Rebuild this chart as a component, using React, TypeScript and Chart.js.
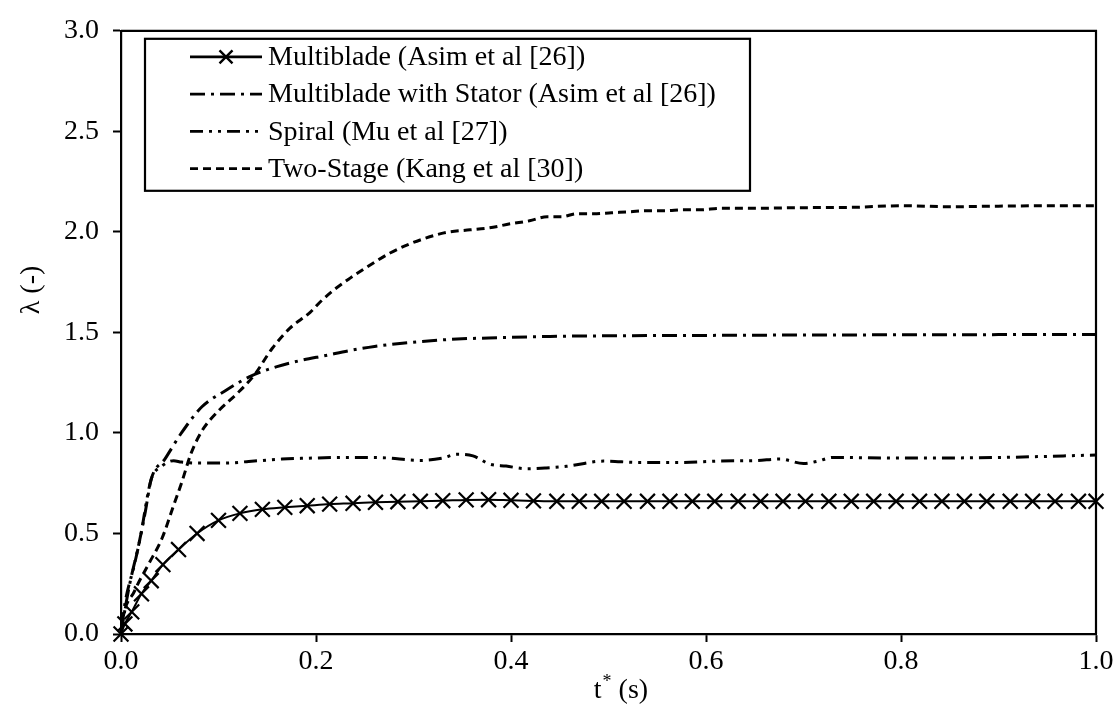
import React, { useEffect, useRef } from "react";
import { Chart, registerables } from "chart.js";

Chart.register(...registerables);

const FONT = "'Liberation Serif', 'Times New Roman', serif";

// Multiblade (Asim et al [26])
const mbX = [0, 0.004, 0.011, 0.021, 0.031, 0.043, 0.059, 0.078, 0.1, 0.122, 0.145, 0.168, 0.191, 0.214, 0.238, 0.261, 0.284, 0.307, 0.33, 0.354, 0.377, 0.4, 0.423, 0.447, 0.47, 0.493, 0.516, 0.54, 0.563, 0.586, 0.609, 0.633, 0.656, 0.679, 0.702, 0.726, 0.749, 0.772, 0.795, 0.819, 0.842, 0.865, 0.888, 0.912, 0.935, 0.958, 0.982, 1.0];
const mbY = [0, 0.05, 0.11, 0.2, 0.265, 0.345, 0.42, 0.5, 0.565, 0.6, 0.62, 0.63, 0.638, 0.646, 0.65, 0.655, 0.658, 0.66, 0.663, 0.667, 0.668, 0.665, 0.662, 0.66, 0.66, 0.66, 0.66, 0.66, 0.66, 0.66, 0.66, 0.66, 0.66, 0.66, 0.66, 0.66, 0.66, 0.66, 0.66, 0.66, 0.66, 0.66, 0.66, 0.66, 0.66, 0.66, 0.66, 0.66];

// Multiblade with Stator (Asim et al [26])
const stX = [0, 0.004, 0.009, 0.018, 0.025, 0.031, 0.045, 0.062, 0.083, 0.107, 0.132, 0.16, 0.184, 0.21, 0.235, 0.26, 0.286, 0.337, 0.389, 0.44, 0.5, 0.6, 0.7, 0.8, 0.9, 1.0];
const stY = [0, 0.12, 0.25, 0.44, 0.61, 0.77, 0.87, 1.0, 1.13, 1.21, 1.28, 1.33, 1.36, 1.385, 1.41, 1.43, 1.445, 1.465, 1.474, 1.48, 1.483, 1.485, 1.487, 1.488, 1.489, 1.49];

// Spiral (Mu et al [27])
const spX = [0, 0.004, 0.014, 0.021, 0.026, 0.031, 0.042, 0.054, 0.062, 0.08, 0.096, 0.108, 0.131, 0.165, 0.196, 0.225, 0.266, 0.307, 0.33, 0.344, 0.361, 0.378, 0.395, 0.416, 0.436, 0.457, 0.495, 0.532, 0.573, 0.614, 0.652, 0.676, 0.7, 0.715, 0.73, 0.8, 0.9, 1.0];
const spY = [0, 0.15, 0.35, 0.51, 0.655, 0.77, 0.835, 0.862, 0.855, 0.85, 0.85, 0.85, 0.858, 0.87, 0.875, 0.878, 0.877, 0.863, 0.875, 0.894, 0.886, 0.845, 0.835, 0.822, 0.826, 0.834, 0.86, 0.853, 0.853, 0.86, 0.863, 0.87, 0.848, 0.86, 0.878, 0.875, 0.878, 0.89];

// Two-Stage (Kang et al [30])
const tsX = [0, 0.001, 0.014, 0.028, 0.042, 0.054, 0.062, 0.072, 0.083, 0.1, 0.12, 0.137, 0.155, 0.173, 0.194, 0.204, 0.218, 0.235, 0.249, 0.262, 0.276, 0.296, 0.31, 0.327, 0.337, 0.358, 0.378, 0.399, 0.419, 0.437, 0.452, 0.467, 0.485, 0.503, 0.522, 0.54, 0.558, 0.577, 0.595, 0.614, 0.65, 0.687, 0.75, 0.8, 0.85, 0.9, 0.95, 1.0];
const tsY = [0, 0.05, 0.215, 0.345, 0.475, 0.64, 0.75, 0.9, 1.01, 1.11, 1.2, 1.29, 1.42, 1.52, 1.6, 1.65, 1.71, 1.77, 1.815, 1.855, 1.895, 1.94, 1.965, 1.99, 2.0, 2.01, 2.02, 2.04, 2.055, 2.075, 2.075, 2.09, 2.09, 2.095, 2.1, 2.105, 2.105, 2.11, 2.11, 2.117, 2.117, 2.12, 2.122, 2.13, 2.125, 2.128, 2.13, 2.13];

const seriesLabels = [
  "Multiblade (Asim et al [26])",
  "Multiblade with Stator (Asim et al [26])",
  "Spiral (Mu et al [27])",
  "Two-Stage (Kang et al [30])",
];

const xTitleMain = "t";
const xTitleSup = "*";
const xTitleRest = " (s)";
const yTitle = "λ (-)";

const DASH_STATOR = [15, 6, 3, 6];
const DASH_SPIRAL = [13, 6, 3, 6, 3, 6];
const DASH_TWO = [8, 5];

export default function App() {
  const ref = useRef<HTMLCanvasElement>(null);

  useEffect(() => {
    document.body.style.margin = "0";
    const canvas = ref.current!;
    const pts = (xs: number[], ys: number[]) => xs.map((x, i) => ({ x, y: ys[i] }));

    const drawX = (c: CanvasRenderingContext2D, x: number, y: number, r: number) => {
      c.beginPath();
      c.moveTo(x - r, y - r);
      c.lineTo(x + r, y + r);
      c.moveTo(x - r, y + r);
      c.lineTo(x + r, y - r);
      c.stroke();
    };

    const decorPlugin = {
      id: "decor",
      afterDraw(chart: any) {
        const c: CanvasRenderingContext2D = chart.ctx;
        const a = chart.chartArea;
        c.save();
        // top and right frame
        c.strokeStyle = "#000";
        c.lineWidth = 2.2;
        c.setLineDash([]);
        c.beginPath();
        c.moveTo(a.left, a.top);
        c.lineTo(a.right, a.top);
        c.lineTo(a.right, a.bottom);
        c.stroke();

        // legend box
        const bx = a.left + 24;
        const by = a.top + 8;
        const bw = 605;
        const bh = 152;
        c.lineWidth = 2.2;
        c.strokeRect(bx, by, bw, bh);
        const rowH = 37.3;
        const y0 = by + 18;
        const sx0 = bx + 45;
        const sx1 = bx + 117;
        const tx = bx + 123;
        const dashes = [[], DASH_STATOR, DASH_SPIRAL, DASH_TWO];
        c.font = `28px ${FONT}`;
        c.textBaseline = "middle";
        c.textAlign = "left";
        c.fillStyle = "#000";
        for (let i = 0; i < seriesLabels.length; i++) {
          const y = y0 + i * rowH;
          c.setLineDash(dashes[i]);
          c.lineWidth = 2.8;
          c.beginPath();
          c.moveTo(sx0, y);
          c.lineTo(sx1, y);
          c.stroke();
          c.setLineDash([]);
          if (i === 0) {
            c.lineWidth = 2.4;
            drawX(c, (sx0 + sx1) / 2, y, 6.5);
          }
          c.fillText(seriesLabels[i], tx, y + 1);
        }

        // y title
        c.save();
        c.translate(32, 290);
        c.rotate(-Math.PI / 2);
        c.textAlign = "center";
        c.textBaseline = "middle";
        c.font = `28px ${FONT}`;
        c.fillText(yTitle, 0, 0);
        c.restore();

        // x title with superscript
        c.textBaseline = "alphabetic";
        c.textAlign = "left";
        const mainFont = `28px ${FONT}`;
        const supFont = `18px ${FONT}`;
        c.font = mainFont;
        const w1 = c.measureText(xTitleMain).width;
        const w3 = c.measureText(xTitleRest).width;
        c.font = supFont;
        const w2 = c.measureText(xTitleSup).width;
        const total = w1 + w2 + w3;
        const cx = (a.left + a.right) / 2 + 12;
        let x = cx - total / 2;
        const base = 698;
        c.font = mainFont;
        c.fillText(xTitleMain, x, base);
        x += w1 + 1;
        c.font = supFont;
        c.fillText(xTitleSup, x, base - 11);
        x += w2;
        c.font = mainFont;
        c.fillText(xTitleRest, x, base);
        c.restore();
      },
    };

    const chart = new Chart(canvas, {
      type: "scatter",
      data: {
        datasets: [
          {
            label: seriesLabels[0],
            data: pts(mbX, mbY),
            showLine: true,
            borderColor: "#000",
            backgroundColor: "#000",
            borderWidth: 2,
            pointStyle: "crossRot",
            pointRadius: 10.5,
            pointBorderWidth: 2.2,
            pointBorderColor: "#000",
            cubicInterpolationMode: "monotone",
            clip: false,
          },
          {
            label: seriesLabels[1],
            data: pts(stX, stY),
            showLine: true,
            borderColor: "#000",
            borderWidth: 3,
            borderDash: DASH_STATOR,
            pointRadius: 0,
            cubicInterpolationMode: "monotone",
          },
          {
            label: seriesLabels[2],
            data: pts(spX, spY),
            showLine: true,
            borderColor: "#000",
            borderWidth: 3,
            borderDash: DASH_SPIRAL,
            pointRadius: 0,
            cubicInterpolationMode: "monotone",
          },
          {
            label: seriesLabels[3],
            data: pts(tsX, tsY),
            showLine: true,
            borderColor: "#000",
            borderWidth: 3,
            borderDash: DASH_TWO,
            pointRadius: 0,
            cubicInterpolationMode: "monotone",
          },
        ] as any,
      },
      options: {
        responsive: false,
        animation: false,
        layout: { padding: { left: 0, right: 22, top: 21, bottom: 0 } },
        plugins: {
          legend: { display: false },
          tooltip: { enabled: false },
        },
        scales: {
          x: {
            type: "linear",
            min: 0,
            max: 1,
            afterFit: (s: any) => {
              s.height = 72;
            },
            ticks: {
              stepSize: 0.2,
              callback: (v: any) => Number(v).toFixed(1),
              font: { family: FONT, size: 28 },
              color: "#000",
              padding: 3,
              maxRotation: 0,
            },
            grid: {
              drawOnChartArea: false,
              drawTicks: true,
              tickLength: 8,
              tickColor: "#000",
              tickWidth: 2,
            },
            border: { color: "#000", width: 2.2 },
          },
          y: {
            type: "linear",
            min: 0,
            max: 3,
            afterFit: (s: any) => {
              s.width = 121;
            },
            ticks: {
              stepSize: 0.5,
              callback: (v: any) => Number(v).toFixed(1),
              font: { family: FONT, size: 28 },
              color: "#000",
              padding: 14,
            },
            grid: {
              drawOnChartArea: false,
              drawTicks: true,
              tickLength: 8,
              tickColor: "#000",
              tickWidth: 2,
            },
            border: { color: "#000", width: 2.2 },
          },
        },
      } as any,
      plugins: [decorPlugin],
    });

    return () => chart.destroy();
  }, []);

  return (
    <div style={{ width: 1118, height: 706 }}>
      <canvas ref={ref} width={1118} height={706} style={{ display: "block" }} />
    </div>
  );
}
